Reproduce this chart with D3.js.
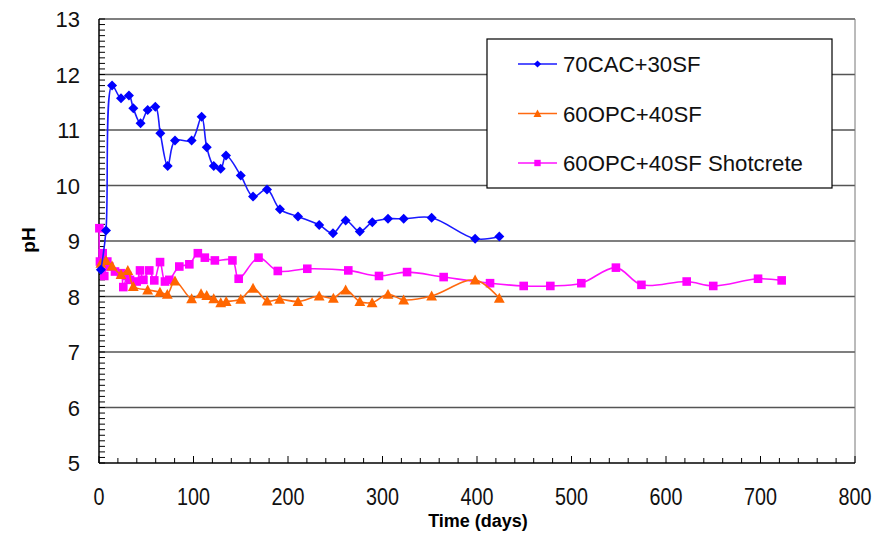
<!DOCTYPE html>
<html>
<head>
<meta charset="utf-8">
<script src="https://cdn.jsdelivr.net/npm/d3@7"></script>
<style>
  body { margin: 0; background: #fff; }
  text { font-family: Arial, "Liberation Sans", sans-serif; }
</style>
</head>
<body>
<div class="svg-mount"></div>
<script>
// series: [day, pH]
const cac = [
  [2, 8.48], [7.4, 9.19], [13.8, 11.8], [23.3, 11.57], [31.7, 11.62], [36.3, 11.39],
  [44, 11.12], [51.5, 11.36], [59.6, 11.42], [64.9, 10.94], [72.7, 10.35], [80.4, 10.81],
  [98, 10.81], [108.6, 11.24], [114, 10.69], [121.4, 10.35], [128.8, 10.3], [134.4, 10.54],
  [150, 10.18], [163, 9.8], [177.8, 9.93], [191.5, 9.57], [210.6, 9.44], [233, 9.29],
  [247.6, 9.14], [261, 9.37], [276, 9.17], [289.2, 9.34], [305.8, 9.4], [322.4, 9.4],
  [352, 9.42], [398, 9.04], [423.6, 9.08],
];
const opc = [
  [2, 8.6], [7.4, 8.65], [13.8, 8.55], [23.3, 8.4], [30.5, 8.47], [36.3, 8.18],
  [51.5, 8.12], [64.5, 8.08], [72.3, 8.04], [80.4, 8.28], [98, 7.96], [108, 8.05],
  [114, 8.02], [121.4, 7.96], [128.8, 7.89], [134.6, 7.91], [150, 7.95], [163, 8.15],
  [178, 7.92], [191.2, 7.95], [210.6, 7.91], [233, 8.01], [248, 7.97], [261, 8.12],
  [276, 7.91], [289, 7.89], [305.8, 8.04], [322.4, 7.94], [352, 8.01], [398, 8.3],
  [423.6, 7.97],
];
const shot = [
  [0.4, 9.23], [1, 8.63], [3.9, 8.78], [5.6, 8.37], [8.8, 8.63], [10.9, 8.54],
  [16.9, 8.45], [23.3, 8.42], [25.7, 8.17], [30, 8.37], [32.8, 8.3], [39.9, 8.27],
  [43.4, 8.47], [47, 8.3], [53.2, 8.47], [58.5, 8.29], [64.6, 8.62], [69.8, 8.27],
  [74.4, 8.3], [85, 8.54], [95.6, 8.58], [104.6, 8.78], [112, 8.7], [122.6, 8.65],
  [141.2, 8.65], [147.8, 8.32], [168.8, 8.7], [189.2, 8.46], [220.4, 8.5], [263.8, 8.47],
  [296.3, 8.37], [326, 8.44], [364.7, 8.35], [413.8, 8.24], [449.4, 8.19], [477.6, 8.19],
  [510.4, 8.24], [547, 8.52], [574, 8.21], [621.9, 8.27], [650, 8.19], [697.4, 8.32],
  [722.4, 8.29],
];
const seriesNames = ["70CAC+30SF", "60OPC+40SF", "60OPC+40SF Shotcrete"];
const xTicks = [0, 100, 200, 300, 400, 500, 600, 700, 800];
const yTicks = [5, 6, 7, 8, 9, 10, 11, 12, 13];

const width = 886;
const height = 533;
const plot = { left: 99, right: 855, top: 19, bottom: 463 };

const x = d3.scaleLinear().domain([0, 800]).range([plot.left, plot.right]);
const y = d3.scaleLinear().domain([5, 13]).range([plot.bottom, plot.top]);

const svg = d3
  .select(".svg-mount")
  .append("svg")
  .attr("width", width)
  .attr("height", height);

// gridlines
svg
  .append("g")
  .selectAll("line")
  .data(yTicks.slice(1))
  .enter()
  .append("line")
  .attr("x1", plot.left)
  .attr("x2", plot.right)
  .attr("y1", (d) => y(d))
  .attr("y2", (d) => y(d))
  .attr("stroke", "#555")
  .attr("stroke-width", 1.4);

// right border of plot area
svg
  .append("line")
  .attr("x1", plot.right)
  .attr("x2", plot.right)
  .attr("y1", plot.top)
  .attr("y2", plot.bottom)
  .attr("stroke", "#777")
  .attr("stroke-width", 1);

// minor ticks (inside)
const yMinor = d3.range(50, 131).map((d) => d / 10);
svg
  .append("g")
  .selectAll("line")
  .data(yMinor)
  .enter()
  .append("line")
  .attr("x1", plot.left)
  .attr("x2", plot.left + 6)
  .attr("y1", (d) => y(d))
  .attr("y2", (d) => y(d))
  .attr("stroke", "#000")
  .attr("stroke-width", 1);

const xMinor = d3.range(0, 801, 20);
svg
  .append("g")
  .selectAll("line")
  .data(xMinor)
  .enter()
  .append("line")
  .attr("x1", (d) => x(d))
  .attr("x2", (d) => x(d))
  .attr("y1", plot.bottom)
  .attr("y2", (d) => (d % 100 === 0 ? plot.bottom - 7 : plot.bottom - 5))
  .attr("stroke", "#000")
  .attr("stroke-width", 1);

// axis lines
svg
  .append("line")
  .attr("x1", plot.left)
  .attr("x2", plot.left)
  .attr("y1", plot.top)
  .attr("y2", plot.bottom)
  .attr("stroke", "#000")
  .attr("stroke-width", 1.5);
svg
  .append("line")
  .attr("x1", plot.left)
  .attr("x2", plot.right)
  .attr("y1", plot.bottom)
  .attr("y2", plot.bottom)
  .attr("stroke", "#000")
  .attr("stroke-width", 1.5);

// tick labels
svg
  .append("g")
  .selectAll("text")
  .data(yTicks)
  .enter()
  .append("text")
  .attr("x", 80)
  .attr("y", (d) => y(d) + 8)
  .attr("text-anchor", "end")
  .attr("font-size", 22)
  .attr("fill", "#111")
  .text((d) => d);

// x labels look a bit condensed in the original
svg
  .append("g")
  .selectAll("text")
  .data(xTicks)
  .enter()
  .append("text")
  .attr("transform", (d) => `translate(${x(d)},505) scale(0.92,1.08)`)
  .attr("text-anchor", "middle")
  .attr("font-size", 21.5)
  .attr("fill", "#111")
  .text((d) => d);

// axis titles
svg
  .append("text")
  .attr("transform", "translate(35,240) rotate(-90)")
  .attr("text-anchor", "middle")
  .attr("font-size", 19)
  .attr("font-weight", "bold")
  .text("pH");

svg
  .append("text")
  .attr("x", 478)
  .attr("y", 527)
  .attr("text-anchor", "middle")
  .attr("font-size", 18)
  .attr("font-weight", "bold")
  .text("Time (days)");

// markers
function diamond(r) {
  return `M0,${-r}L${r},0L0,${r}L${-r},0Z`;
}
function triangle(r) {
  return `M0,${-r}L${r},${r * 0.85}L${-r},${r * 0.85}Z`;
}
function square(r) {
  return `M${-r},${-r}H${r}V${r}H${-r}Z`;
}

const series = [
  { name: seriesNames[0], data: cac, color: "#0000ff", line: "#1a1aff", marker: diamond, r: 5, lr: 3.6 },
  { name: seriesNames[1], data: opc, color: "#ff6600", line: "#ff6a10", marker: triangle, r: 5.4, lr: 4 },
  { name: seriesNames[2], data: shot, color: "#ff00ff", line: "#ff10ff", marker: square, r: 4.3, lr: 3.2 },
];

const line = d3
  .line()
  .x((d) => x(d[0]))
  .y((d) => y(d[1]))
  .curve(d3.curveCatmullRom.alpha(0.5));

// draw in reverse order so blue sits on top
series
  .slice()
  .reverse()
  .forEach((s) => {
    const g = svg.append("g");
    g.append("path")
      .attr("d", line(s.data))
      .attr("fill", "none")
      .attr("stroke", s.line)
      .attr("stroke-width", 1.6);
    g.selectAll("path.mk")
      .data(s.data)
      .enter()
      .append("path")
      .attr("class", "mk")
      .attr("transform", (d) => `translate(${x(d[0])},${y(d[1])})`)
      .attr("d", s.marker(s.r))
      .attr("fill", s.color);
  });

// legend
const legend = svg.append("g").attr("transform", "translate(487,39)");
legend
  .append("rect")
  .attr("x", 0)
  .attr("y", 0)
  .attr("width", 345)
  .attr("height", 149)
  .attr("fill", "#fff")
  .attr("stroke", "#000")
  .attr("stroke-width", 1.2);

const items = legend
  .selectAll("g.item")
  .data(series)
  .enter()
  .append("g")
  .attr("class", "item")
  .attr("transform", (d, i) => `translate(0,${25 + i * 49.5})`);
items
  .append("line")
  .attr("x1", 31)
  .attr("x2", 70)
  .attr("stroke", (d) => d.line)
  .attr("stroke-width", 1.6);
items
  .append("path")
  .attr("transform", "translate(50.5,0)")
  .attr("d", (d) => d.marker(d.lr))
  .attr("fill", (d) => d.color);
items
  .append("text")
  .attr("x", 76)
  .attr("y", 8)
  .attr("font-size", 22.2)
  .attr("fill", "#111")
  .text((d) => d.name);
</script>
</body>
</html>
